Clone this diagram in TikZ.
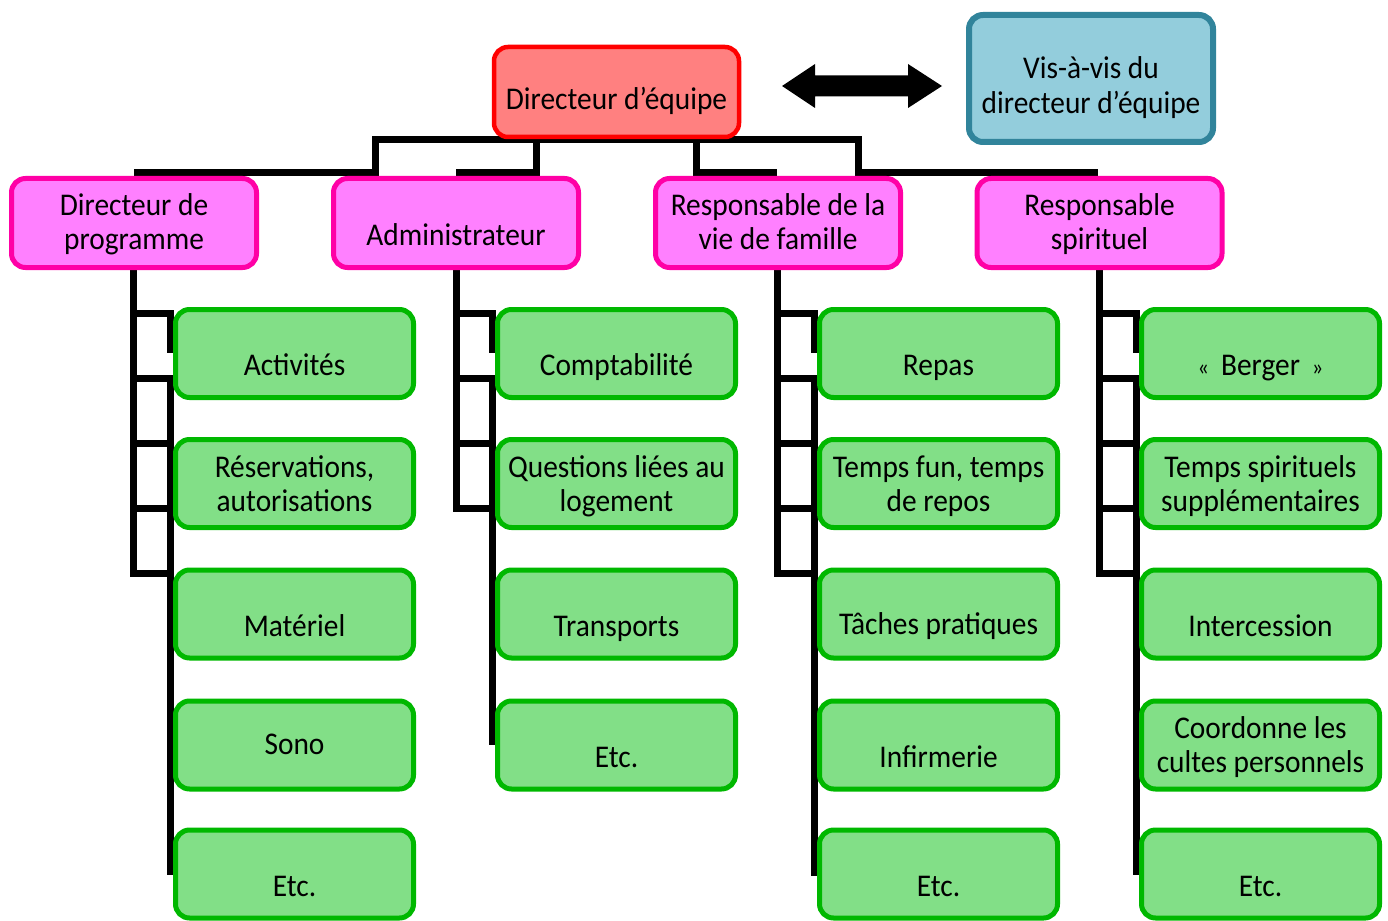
\documentclass[tikz,border=0pt]{standalone}
\usepackage{fontspec}
\setmainfont{Carlito}[FakeStretch=0.93]
\definecolor{redfill}{HTML}{FF8080}
\definecolor{redline}{HTML}{FF0000}
\definecolor{bluefill}{HTML}{93CDDC}
\definecolor{blueline}{HTML}{31849B}
\definecolor{magfill}{HTML}{FF80FF}
\definecolor{magline}{HTML}{FF00A6}
\definecolor{gfill}{HTML}{82DF87}
\definecolor{gline}{HTML}{00B800}
\begin{document}
\begin{tikzpicture}[x=1pt,y=-1pt,
  box/.style={draw, rounded corners=14pt, inner sep=0pt},
  redbox/.style={box, fill=redfill, draw=redline, line width=4.5pt, minimum width=245pt, minimum height=90pt},
  bluebox/.style={box, fill=bluefill, draw=blueline, line width=6pt, minimum width=244pt, minimum height=127pt},
  magbox/.style={box, fill=magfill, draw=magline, line width=5pt, minimum width=245pt, minimum height=89pt},
  gbox/.style={box, fill=gfill, draw=gline, line width=5pt, minimum width=238pt, minimum height=88pt},
  txt/.style={font=\fontsize{31.6}{35}\selectfont, anchor=base, inner sep=0pt},
  wire/.style={line width=7pt, black, line join=miter}]
\useasboundingbox (0,0) rectangle (1388,920);

% ---------- connectors (drawn first, boxes cover them) ----------
\draw[wire] (134,173) -- (375,173) -- (375,140) -- (858,140) -- (858,173) -- (1098,173);
\draw[wire] (456,173) -- (536,173) -- (536,140);
\draw[wire] (696,140) -- (696,173) -- (777,173);

% column 1
\draw[wire] (133,268) -- (133,573) -- (170,573);
\draw[wire] (133,313) -- (170,313) -- (170,353);
\draw[wire] (133,378) -- (170,378) -- (170,875);
\draw[wire] (133,443) -- (170,443);
\draw[wire] (133,508) -- (170,508);
% column 2
\draw[wire] (456,268) -- (456,508) -- (492,508);
\draw[wire] (456,313) -- (492,313) -- (492,353);
\draw[wire] (456,378) -- (492,378) -- (492,745);
\draw[wire] (456,443) -- (492,443);
% column 3
\draw[wire] (777,268) -- (777,573) -- (814,573);
\draw[wire] (777,313) -- (814,313) -- (814,353);
\draw[wire] (777,378) -- (814,378) -- (814,876);
\draw[wire] (777,443) -- (814,443);
\draw[wire] (777,508) -- (814,508);
% column 4
\draw[wire] (1099,268) -- (1099,573) -- (1136,573);
\draw[wire] (1099,313) -- (1136,313) -- (1136,353);
\draw[wire] (1099,378) -- (1136,378) -- (1136,875);
\draw[wire] (1099,443) -- (1136,443);
\draw[wire] (1099,508) -- (1136,508);

% double arrow
\fill[black] (782,86) -- (815,64) -- (815,75.5) -- (908,75.5) -- (908,64) -- (942,86)
  -- (908,108) -- (908,96.5) -- (815,96.5) -- (815,108) -- cycle;

% ---------- boxes ----------
\node[redbox] (top) at (616.5,92) {};
\node[bluebox] (vis) at (1091,78.5) {};
\node[magbox] (m1) at (134,223) {};
\node[magbox] (m2) at (456,223) {};
\node[magbox] (m3) at (778,223) {};
\node[magbox] (m4) at (1099.5,223) {};

\foreach \c/\x in {1/294.5,2/616.5,3/938.5,4/1260.5}{
  \node[gbox] (g\c1) at (\x,353.5) {};
  \node[gbox] (g\c2) at (\x,483.5) {};
  \node[gbox] (g\c3) at (\x,614) {};
  \node[gbox] (g\c4) at (\x,745) {};
}
\node[gbox] (g15) at (294.5,874) {};
\node[gbox] (g35) at (938.5,874) {};
\node[gbox] (g45) at (1260.5,874) {};

% ---------- texts ----------
\node[txt] (topt) at (616.5,110) {Directeur d’équipe};
\node[txt] (vist1) at (1091,79) {Vis-à-vis du};
\node[txt] (vist2) at (1091,114) {directeur d’équipe};

\node[txt] (m1t1) at (134,215) {Directeur de};
\node[txt] (m1t2) at (134,249) {programme};
\node[txt] (m2t) at (456,245) {Administrateur};
\node[txt] (m3t1) at (778,215) {Responsable de la};
\node[txt] (m3t2) at (778,249) {vie de famille};
\node[txt] (m4t1) at (1099.5,215) {Responsable};
\node[txt] (m4t2) at (1099.5,249) {spirituel};

% column 1
\node[txt] (g11t) at (294.5,375) {Activités};
\node[txt] (g12t1) at (294.5,477) {Réservations,};
\node[txt] (g12t2) at (294.5,511) {autorisations};
\node[txt] (g13t) at (294.5,636) {Matériel};
\node[txt] (g14t) at (294.5,754) {Sono};
\node[txt] (g15t) at (294.5,896) {Etc.};
% column 2
\node[txt] (g21t) at (616.5,375) {Comptabilité};
\node[txt] (g22t1) at (616.5,477) {Questions liées au};
\node[txt] (g22t2) at (616.5,511) {logement};
\node[txt] (g23t) at (616.5,636) {Transports};
\node[txt] (g24t) at (616.5,767) {Etc.};
% column 3
\node[txt] (g31t) at (938.5,375) {Repas};
\node[txt] (g32t1) at (938.5,477) {Temps fun, temps};
\node[txt] (g32t2) at (938.5,511) {de repos};
\node[txt] (g33t) at (938.5,634) {Tâches pratiques};
\node[txt] (g34t) at (938.5,767) {Infirmerie};
\node[txt] (g35t) at (938.5,896) {Etc.};
% column 4
\node[txt] (g41t) at (1260.5,375) {{\fontsize{24}{26}\selectfont «}\hspace{12pt}Berger\hspace{12pt}{\fontsize{24}{26}\selectfont »}};
\node[txt] (g42t1) at (1260.5,477) {Temps spirituels};
\node[txt] (g42t2) at (1260.5,511) {supplémentaires};
\node[txt] (g43t) at (1260.5,636) {Intercession};
\node[txt] (g44t1) at (1260.5,738) {Coordonne les};
\node[txt] (g44t2) at (1260.5,772) {cultes personnels};
\node[txt] (g45t) at (1260.5,896) {Etc.};
\end{tikzpicture}
\end{document}
